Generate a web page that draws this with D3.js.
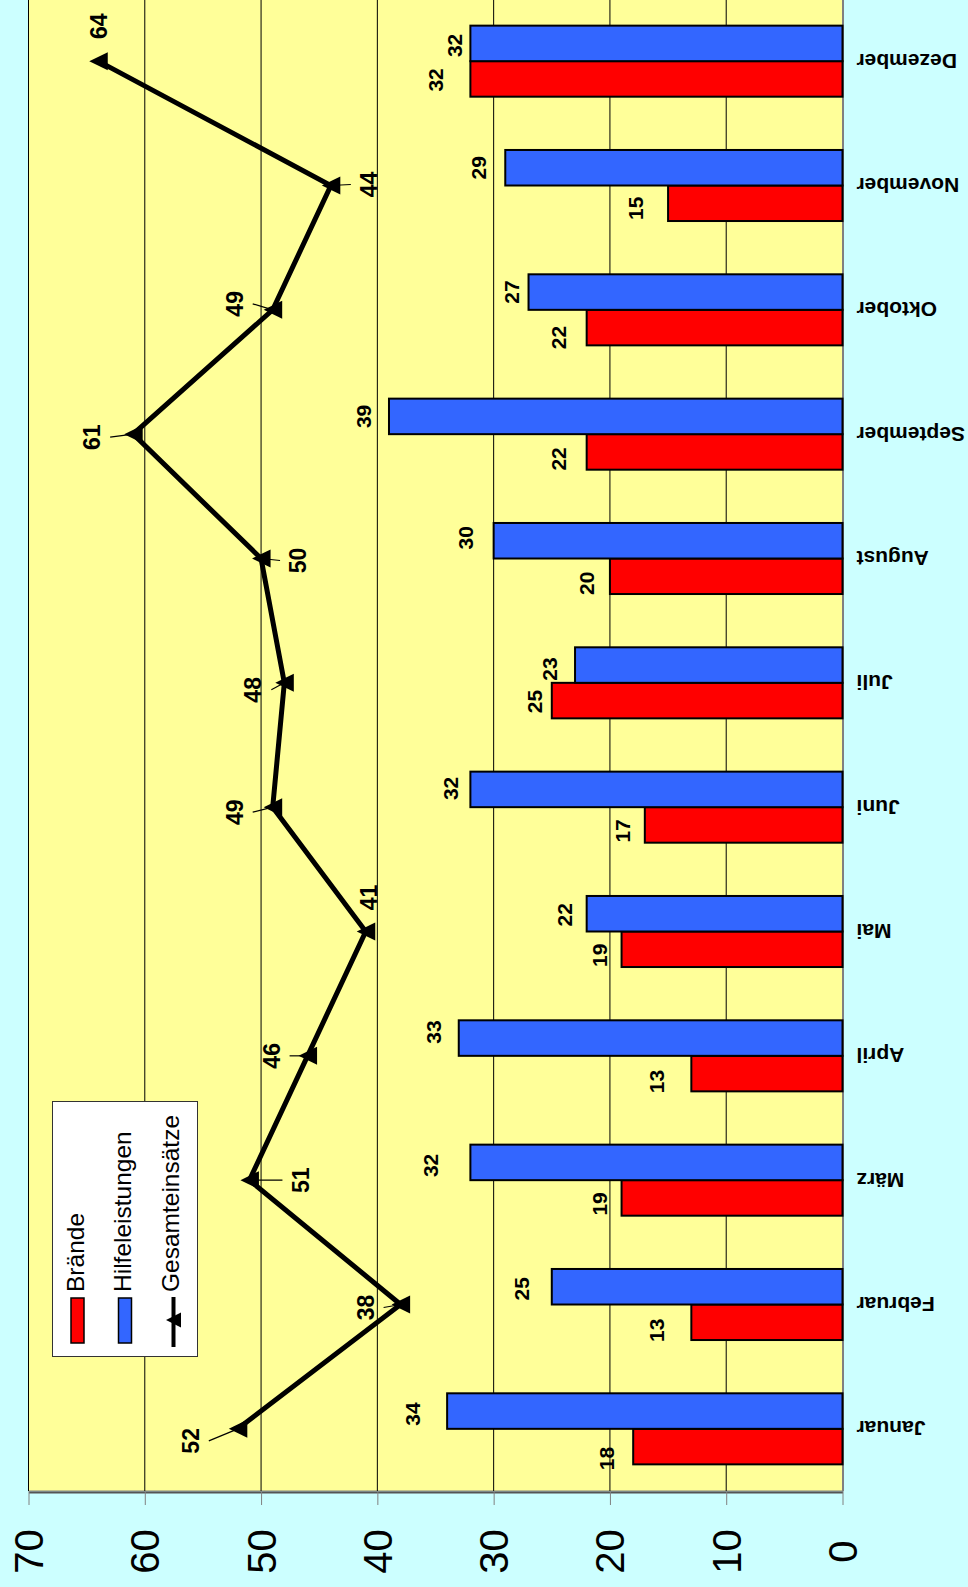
<!DOCTYPE html>
<html>
<head>
<meta charset="utf-8">
<script src="https://cdn.jsdelivr.net/npm/d3@7"></script>
<style>
  html, body { margin: 0; padding: 0; background: #CCFFFF; }
  svg { display: block; }
  text { font-family: "Liberation Sans", Arial, Helvetica, sans-serif; }
</style>
</head>
<body>
<svg id="chart" width="968" height="1587"></svg>
<script>
// Monthly deployments of the fire brigade
const months = ["Januar", "Februar", "März", "April", "Mai", "Juni", "Juli",
                "August", "September", "Oktober", "November", "Dezember"];
const braende = [18, 13, 19, 13, 19, 17, 25, 20, 22, 22, 15, 32];
const hilfeleistungen = [34, 25, 32, 33, 22, 32, 23, 30, 39, 27, 29, 32];
const gesamteinsaetze = [52, 38, 51, 46, 41, 49, 48, 50, 61, 49, 44, 64];
const valueTicks = [0, 10, 20, 30, 40, 50, 60, 70];
const seriesNames = ["Brände", "Hilfeleistungen", "Gesamteinsätze"];

// Hand-placed label nudges (pixels)
const braendeLabelGap   = [27, 35, 22, 35, 22, 22, 17, 23, 28, 28, 32, 35];
const braendeLabelShift = [12, 8, 6, 8, 6, 6, 1, 7, 7, 10, 5, 1];
const hilfeLabelGap     = [34, 30, 40, 25, 22, 20, 25, 28, 25, 17, 27, 16];
const hilfeLabelShift   = [3, 2, 3, -6, 1, -1, 4, -3, 0, 0, 0, 2];
const gesamtLabelOffset = [[-47, 12], [-35, 3], [51, 0], [-36, 0], [3, -34], [-38, 5],
                           [-31, 7], [37, 2], [-41, 3], [-38, -6], [38, -1], [1, -35]];

const svg = d3.select("#chart");
const plot = { left: 28.5, right: 842.5, top: -1, bottom: 1491 };

svg.append("rect").attr("width", 968).attr("height", 1587).attr("fill", "#CCFFFF");

const x = d3.scaleLinear().domain([0, 70]).range([plot.right, plot.left]);
const yBand = d3.scaleBand().domain(months).range([plot.bottom, plot.top]);
const ySeries = d3.scaleBand().domain(["hilfe", "braende"])
  .range([0, yBand.bandwidth()]).paddingOuter(0.75).paddingInner(0);
const yMid = m => yBand(m) + yBand.bandwidth() / 2;

// plot area
svg.append("rect")
  .attr("x", plot.left).attr("y", plot.top)
  .attr("width", plot.right - plot.left).attr("height", plot.bottom - plot.top)
  .attr("fill", "#FFFF99").attr("stroke", "#808080").attr("stroke-width", 1);

// gridlines
svg.append("g").selectAll("line")
  .data(valueTicks.filter(v => v > 0))
  .join("line")
  .attr("x1", d => x(d)).attr("x2", d => x(d))
  .attr("y1", plot.top).attr("y2", plot.bottom)
  .attr("stroke", "#000").attr("stroke-width", 1);

// value axis (bottom)
const gx = svg.append("g").attr("transform", `translate(0,${plot.bottom + 1})`)
  .call(d3.axisBottom(x).tickValues(valueTicks).tickSize(13).tickSizeOuter(0).tickPadding(0));
gx.select(".domain").attr("stroke", "#555").attr("stroke-width", 2);
gx.selectAll(".tick line").attr("stroke", "#808080");
gx.selectAll(".tick text")
  .attr("y", 0).attr("dy", "0.35em")
  .attr("text-anchor", "middle")
  .attr("transform", "translate(0,59.5) rotate(-90)")
  .attr("fill", "#000")
  .style("font-family", '"Liberation Sans", Arial, sans-serif')
  .style("font-size", "40px");

// category axis (right)
const gy = svg.append("g").attr("transform", `translate(${plot.right},0)`)
  .call(d3.axisRight(yBand).tickSize(0).tickSizeOuter(0).tickPadding(0));
gy.select(".domain").attr("stroke", "#808080").attr("stroke-width", 2);
gy.selectAll(".tick text")
  .attr("x", 0).attr("dy", "0.35em")
  .attr("text-anchor", "end")
  .attr("transform", "translate(14,0) rotate(180)")
  .attr("fill", "#000")
  .style("font-family", '"Liberation Sans", Arial, sans-serif')
  .style("font-size", "21px")
  .style("font-weight", "bold");

// bars
const barRows = months.map((m, i) => ({ m, i, b: braende[i], h: hilfeleistungen[i] }));
const bars = svg.append("g");
bars.selectAll("rect.braende").data(barRows).join("rect")
  .attr("class", "braende")
  .attr("x", d => x(d.b)).attr("width", d => x(0) - x(d.b))
  .attr("y", d => yBand(d.m) + ySeries("braende")).attr("height", ySeries.bandwidth())
  .attr("fill", "#FF0000").attr("stroke", "#000").attr("stroke-width", 2);
bars.selectAll("rect.hilfe").data(barRows).join("rect")
  .attr("class", "hilfe")
  .attr("x", d => x(d.h)).attr("width", d => x(0) - x(d.h))
  .attr("y", d => yBand(d.m) + ySeries("hilfe")).attr("height", ySeries.bandwidth())
  .attr("fill", "#3366FF").attr("stroke", "#000").attr("stroke-width", 2);

// bar value labels
function rotLabel(g, px, py, txt, size) {
  g.append("text")
    .attr("transform", `translate(${px},${py}) rotate(-90)`)
    .attr("text-anchor", "middle").attr("dy", "0.35em")
    .style("font-size", size + "px").style("font-weight", "bold")
    .attr("fill", "#000").text(txt);
}
const labels = svg.append("g");
barRows.forEach(d => {
  const yb = yBand(d.m) + ySeries("braende") + ySeries.bandwidth() / 2;
  const yh = yBand(d.m) + ySeries("hilfe") + ySeries.bandwidth() / 2;
  rotLabel(labels, x(d.b) - braendeLabelGap[d.i], yb + braendeLabelShift[d.i], d.b, 21);
  rotLabel(labels, x(d.h) - hilfeLabelGap[d.i], yh + hilfeLabelShift[d.i], d.h, 21);
});

// total line with leader lines and labels
const linePts = months.map((m, i) => ({ m, i, v: gesamteinsaetze[i], px: x(gesamteinsaetze[i]), py: yMid(m) }));
const lineG = svg.append("g");
linePts.forEach(p => {
  const [dx, dy] = gesamtLabelOffset[p.i];
  const lx = p.px + dx, ly = p.py + dy;
  if (Math.abs(dx) > Math.abs(dy)) {
    lineG.append("line")
      .attr("x1", lx - Math.sign(dx) * 18).attr("y1", ly)
      .attr("x2", p.px).attr("y2", p.py)
      .attr("stroke", "#000").attr("stroke-width", 1.2);
  }
});
lineG.append("path")
  .datum(linePts)
  .attr("d", d3.line().x(d => d.px).y(d => d.py))
  .attr("fill", "none").attr("stroke", "#000").attr("stroke-width", 5)
  .attr("stroke-linejoin", "miter");
lineG.selectAll("path.marker").data(linePts).join("path")
  .attr("class", "marker")
  .attr("transform", d => `translate(${d.px},${d.py})`)
  .attr("d", "M-9,0L9.5,-9L9.5,9Z")
  .attr("fill", "#000");
linePts.forEach(p => {
  const [dx, dy] = gesamtLabelOffset[p.i];
  rotLabel(lineG, p.px + dx, p.py + dy, p.v, 23);
});

// legend
const lg = svg.append("g");
lg.append("rect").attr("x", 52.5).attr("y", 1101.5).attr("width", 145).attr("height", 255)
  .attr("fill", "#fff").attr("stroke", "#333").attr("stroke-width", 1);
const legendCols = [84, 130.5, 179];
lg.append("rect").attr("x", 71).attr("y", 1298).attr("width", 13).attr("height", 45)
  .attr("fill", "#FF0000").attr("stroke", "#000").attr("stroke-width", 1.5);
lg.append("rect").attr("x", 118.5).attr("y", 1298).attr("width", 13).attr("height", 45)
  .attr("fill", "#3366FF").attr("stroke", "#000").attr("stroke-width", 1.5);
lg.append("line").attr("x1", 173.5).attr("x2", 173.5).attr("y1", 1297).attr("y2", 1347)
  .attr("stroke", "#000").attr("stroke-width", 4);
lg.append("path").attr("transform", "translate(173.5,1320)")
  .attr("d", "M-7.5,0L7.5,-7.5L7.5,7.5Z").attr("fill", "#000");
seriesNames.forEach((s, i) => {
  lg.append("text")
    .attr("transform", `translate(${legendCols[i]},1292) rotate(-90)`)
    .attr("text-anchor", "start")
    .style("font-size", "24.5px")
    .attr("fill", "#000").text(s);
});
</script>
</body>
</html>
